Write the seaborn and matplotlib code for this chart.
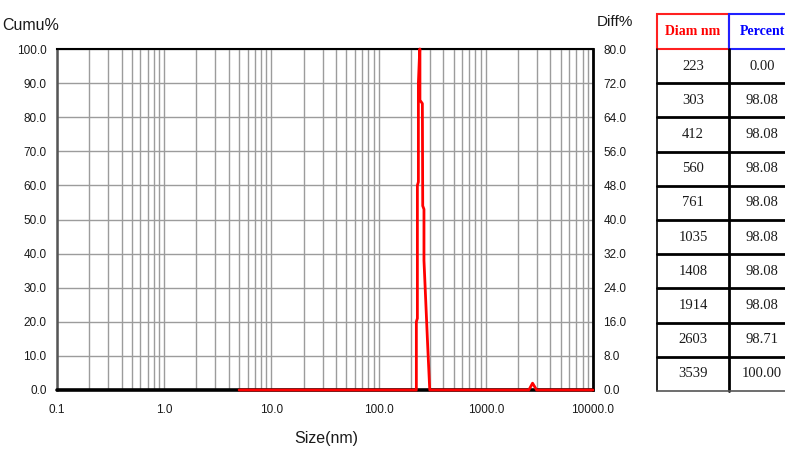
import matplotlib
matplotlib.use("Agg")
import matplotlib.pyplot as plt
import seaborn as sns
import numpy as np
import pandas as pd
from matplotlib.ticker import LogLocator, FixedLocator, NullFormatter
from matplotlib.lines import Line2D
from matplotlib.patches import Rectangle

# ---------------- data ----------------
base_size = [0.1, 10000.0]
base_val = [0.0, 0.0]

diff_size = [5, 225, 225, 230, 230, 235, 235, 242, 243, 243, 256, 258, 265, 265, 287, 300,
             2520, 2730, 2980, 10000]
diff_val = [0, 0, 20, 21, 60, 61, 90, 100, 100, 85, 84, 54, 53, 38, 13, 0,
            0, 2.0, 0, 0]

x_ticks = [0.1, 1, 10, 100, 1000, 10000]
x_labels = ["0.1", "1.0", "10.0", "100.0", "1000.0", "10000.0"]
cumu_ticks = [0, 10, 20, 30, 40, 50, 60, 70, 80, 90, 100]
diff_ticks = [0, 8, 16, 24, 32, 40, 48, 56, 64, 72, 80]

table_diam = ["223", "303", "412", "560", "761", "1035", "1408", "1914", "2603", "3539"]
table_pct = ["0.00", "98.08", "98.08", "98.08", "98.08", "98.08", "98.08", "98.08", "98.71", "100.00"]

# ---------------- style ----------------
sns.set_theme(style="white")
plt.rcParams["font.family"] = ["Liberation Sans", "DejaVu Sans"]

W, H = 785, 449
fig = plt.figure(figsize=(W / 100, H / 100), dpi=100)
fig.patch.set_facecolor("white")

def fx(px):
    return px / W

def fy(py):
    return 1 - py / H

L, R, T, B = 57, 593, 49, 390
ax = fig.add_axes([fx(L), fy(B), fx(R - L), (B - T) / H])
ax.set_facecolor("white")

ax.set_xscale("log")
ax.set_xlim(0.1, 10000)
ax.set_ylim(0, 100)

# grid
ax.xaxis.set_major_locator(FixedLocator(x_ticks))
ax.xaxis.set_minor_locator(LogLocator(base=10, subs=np.arange(2, 10)))
ax.xaxis.set_minor_formatter(NullFormatter())
ax.set_xticks(x_ticks)
ax.set_xticklabels(x_labels)
ax.set_yticks(cumu_ticks)
ax.set_yticklabels([f"{v:.1f}" for v in cumu_ticks])
ax.grid(True, which="both", axis="x", color="#9c9c9c", lw=1.0)
ax.grid(True, which="major", axis="y", color="#9c9c9c", lw=1.0)
ax.set_axisbelow(True)

# lines
sns.lineplot(x=base_size, y=base_val, color="black", lw=2.6, ax=ax,
             estimator=None, sort=False, clip_on=False, zorder=3)
sns.lineplot(x=diff_size, y=diff_val, color="#ff0000", lw=2.0, ax=ax,
             estimator=None, sort=False, clip_on=False, zorder=4)

ax.tick_params(axis="both", which="both", length=0)
ax.tick_params(axis="y", pad=7.5, labelsize=8.5, labelcolor="#1a1a1a")
ax.tick_params(axis="x", pad=10, labelsize=8.5, labelcolor="#1a1a1a")
ax.set_xlabel("")
ax.set_ylabel("")

for s in ["top", "right"]:
    ax.spines[s].set_color("black")
ax.spines["top"].set_linewidth(1.5)
ax.spines["right"].set_linewidth(2.0)
ax.spines["left"].set_color("#555555")
ax.spines["left"].set_linewidth(1.8)
ax.spines["bottom"].set_visible(False)

ax2 = ax.twinx()
ax2.set_ylim(0, 80)
ax2.set_yticks(diff_ticks)
ax2.set_yticklabels([f"{v:.1f}" for v in diff_ticks])
ax2.tick_params(axis="y", length=0, pad=7.5, labelsize=8.5, labelcolor="#1a1a1a")
for s in ax2.spines.values():
    s.set_visible(False)
ax2.grid(False)

# axis titles
fig.text(fx(59), fy(25), "Cumu%", ha="right", va="center", fontsize=11.5, color="#1a1a1a")
fig.text(fx(597), fy(22), "Diff%", ha="left", va="center", fontsize=11, color="#1a1a1a")
fig.text(fx(326), fy(438), "Size(nm)", ha="center", va="center", fontsize=11.5, color="#1a1a1a")

# ---------------- table ----------------
tx0, tx1, tx2 = 657, 729, 795
hy0, hy1 = 14, 49
row_h = (391 - 49) / len(table_diam)

fig.add_artist(Rectangle((fx(tx0), fy(hy1)), fx(tx1 - tx0), (hy1 - hy0) / H,
                         transform=fig.transFigure, fill=False, ec="#ff2020", lw=1.5))
fig.add_artist(Rectangle((fx(tx1), fy(hy1)), fx(tx2 - tx1), (hy1 - hy0) / H,
                         transform=fig.transFigure, fill=False, ec="#2020ff", lw=1.5))
fig.text(fx((tx0 + tx1) / 2), fy((hy0 + hy1) / 2), "Diam nm", ha="center", va="center",
         fontsize=10, fontweight="bold", color="#ff0000", family="Liberation Serif")
fig.text(fx((tx1 + tx2) / 2), fy((hy0 + hy1) / 2), "Percent", ha="center", va="center",
         fontsize=10, fontweight="bold", color="#0000ff", family="Liberation Serif")

ybot = hy1 + row_h * len(table_diam)
fig.add_artist(Line2D([fx(tx0), fx(tx0)], [fy(hy1), fy(ybot)], color="black", lw=1.2,
                      transform=fig.transFigure))
fig.add_artist(Line2D([fx(tx1), fx(tx1)], [fy(hy1), fy(ybot)], color="black", lw=2.0,
                      transform=fig.transFigure))
for i, (d, p) in enumerate(zip(table_diam, table_pct)):
    y0 = hy1 + i * row_h
    y1 = y0 + row_h
    if i > 0:
        fig.add_artist(Line2D([fx(tx0), fx(tx2)], [fy(y0), fy(y0)], color="black", lw=2.0,
                              transform=fig.transFigure))
    fig.text(fx((tx0 + tx1) / 2), fy((y0 + y1) / 2), d, ha="center", va="center",
             fontsize=10.5, color="#1a1a1a", family="Liberation Serif")
    fig.text(fx((tx1 + tx2) / 2), fy((y0 + y1) / 2), p, ha="center", va="center",
             fontsize=10.5, color="#1a1a1a", family="Liberation Serif")
fig.add_artist(Line2D([fx(tx0), fx(tx2)], [fy(ybot), fy(ybot)], color="#555555", lw=1.2,
                      transform=fig.transFigure))

fig.savefig("out.png", dpi=100, facecolor="white")
